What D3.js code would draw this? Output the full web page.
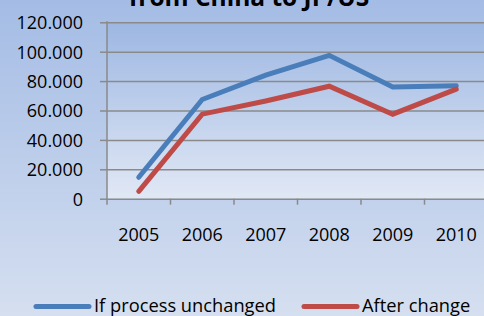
<!DOCTYPE html>
<html>
<head>
<meta charset="utf-8">
<script src="https://cdn.jsdelivr.net/npm/d3@7"></script>
<style>
  html, body { margin: 0; padding: 0; }
  body { width: 484px; height: 316px; overflow: hidden; }
  text { font-family: "Open Sans", Lato, sans-serif; fill: #000; }
</style>
</head>
<body>
<svg id="chart" width="484" height="316"></svg>
<script>
/* ===============================
   Data
================================ */

const years = ["2005", "2006", "2007", "2008", "2009", "2010"];
const unchanged = [14.6, 67.5, 84, 97.5, 76, 76.8];
const afterChange = [5, 57.5, 66.5, 76.5, 57.5, 74.5];
const yTicks = [0, 20, 40, 60, 80, 100, 120];
const seriesNames = ["If process unchanged", "After change"];

const W = 484, H = 316;
const plot = { left: 107, right: 488, top: 22.3, bottom: 198.7 };

const svg = d3.select("#chart");
const defs = svg.append("defs");

/* -------- Backgrounds -------- */

const outerGrad = defs.append("linearGradient")
  .attr("id", "outerBg").attr("x1", 0).attr("y1", 0).attr("x2", 0).attr("y2", 1);
outerGrad.append("stop").attr("offset", "0%").attr("stop-color", "#a4bce5");
outerGrad.append("stop").attr("offset", "100%").attr("stop-color", "#d5dff0");

const plotGrad = defs.append("linearGradient")
  .attr("id", "plotBg").attr("x1", 0).attr("y1", 0).attr("x2", 0).attr("y2", 1);
plotGrad.append("stop").attr("offset", "0%").attr("stop-color", "#9db7e2");
plotGrad.append("stop").attr("offset", "100%").attr("stop-color", "#e1e8f5");

svg.append("rect").attr("width", W).attr("height", H).attr("fill", "url(#outerBg)");
svg.append("rect")
  .attr("x", plot.left).attr("y", plot.top)
  .attr("width", plot.right - plot.left).attr("height", plot.bottom - plot.top)
  .attr("fill", "url(#plotBg)");

/* -------- Scales -------- */

const x = d3.scaleBand().domain(years).range([plot.left, plot.right]);
const y = d3.scaleLinear().domain([0, 120]).range([plot.bottom, plot.top]);

/* -------- Grid & Axes -------- */

const yAxis = d3.axisLeft(y)
  .tickValues(yTicks)
  .tickSize(-(plot.right - plot.left))
  .tickFormat(d => d === 0 ? "0" : d3.format(".3f")(d));

const yG = svg.append("g")
  .attr("transform", `translate(${plot.left},0)`)
  .call(yAxis);
yG.select(".domain").remove();
yG.selectAll(".tick line").attr("stroke", "#8a8a8a").attr("stroke-width", 1.5);
yG.selectAll(".tick text")
  .attr("x", -24).attr("dy", "0.36em")
  .style("font-size", "18px");

// small outer tick marks on y axis
yG.selectAll(".tick").append("line")
  .attr("x1", -7).attr("x2", 0)
  .attr("stroke", "#8a8a8a").attr("stroke-width", 1.5);

// y axis line
svg.append("line")
  .attr("x1", plot.left).attr("x2", plot.left)
  .attr("y1", plot.top - 1).attr("y2", plot.bottom + 6)
  .attr("stroke", "#8a8a8a").attr("stroke-width", 1.5);

const xAxis = d3.axisBottom(x).tickSize(0).tickPadding(0);
const xG = svg.append("g")
  .attr("transform", `translate(0,${plot.bottom})`)
  .call(xAxis);
xG.select(".domain").remove();
xG.selectAll(".tick text")
  .attr("y", 42.8).attr("dy", 0)
  .style("font-size", "18px");

// category boundary ticks
svg.append("g").selectAll("line")
  .data(years.slice(1))
  .join("line")
  .attr("x1", d => x(d)).attr("x2", d => x(d))
  .attr("y1", plot.bottom).attr("y2", plot.bottom + 6)
  .attr("stroke", "#8a8a8a").attr("stroke-width", 1.5);

/* -------- Lines -------- */

const line = d3.line()
  .x((d, i) => x(years[i]) + x.bandwidth() / 2)
  .y(d => y(d));

const series = [
  { name: seriesNames[0], values: unchanged, color: "#4a7ebb" },
  { name: seriesNames[1], values: afterChange, color: "#be4b48" }
];

svg.append("g").selectAll("path")
  .data(series)
  .join("path")
  .attr("d", d => line(d.values))
  .attr("fill", "none")
  .attr("stroke", d => d.color)
  .attr("stroke-width", 5)
  .attr("stroke-linecap", "round")
  .attr("stroke-linejoin", "miter");

/* -------- Title (partially cut at top, as in the source) -------- */

svg.append("text")
  .attr("x", 249).attr("y", 6)
  .attr("text-anchor", "middle")
  .style("font-size", "24.5px")
  .style("font-weight", "bold")
  .text("from China to JP/US");

/* -------- Legend -------- */

const legendX = [36, 304];
const legend = svg.append("g").selectAll("g")
  .data(series)
  .join("g")
  .attr("transform", (d, i) => `translate(${legendX[i]},306.5)`);

legend.append("line")
  .attr("x1", 0).attr("x2", 53)
  .attr("stroke", d => d.color)
  .attr("stroke-width", 5)
  .attr("stroke-linecap", "round");

legend.append("text")
  .attr("x", 58).attr("y", 5.2)
  .style("font-size", "18.3px")
  .text(d => d.name);
</script>
</body>
</html>
